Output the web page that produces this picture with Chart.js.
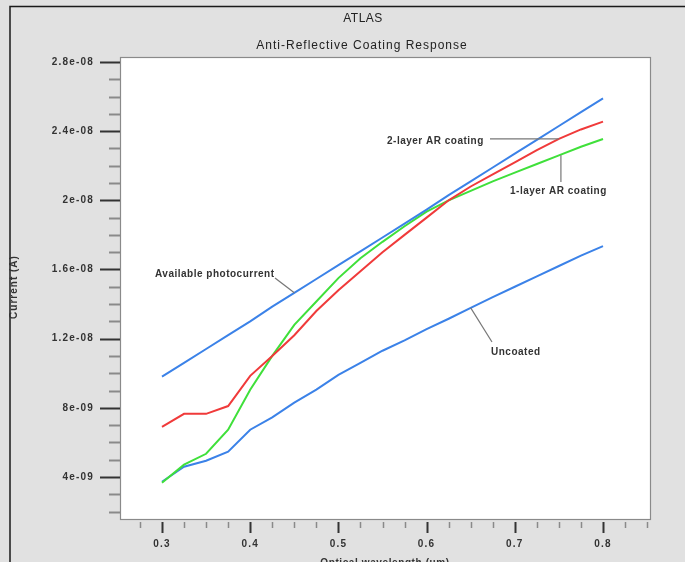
<!DOCTYPE html>
<html>
<head>
<meta charset="utf-8">
<script src="https://cdn.jsdelivr.net/npm/chart.js@4"></script>
<style>
  html, body { margin: 0; padding: 0; background: #e1e1e1; }
  #wrap { position: relative; width: 685px; height: 562px; overflow: hidden; }
  canvas { position: absolute; left: 0; top: 0; }
</style>
</head>
<body>
<div id="wrap"><canvas id="arChart" width="685" height="562"></canvas></div>
<script>
// wavelength samples (um) and currents in units of 1e-8 A
const wavelength = [0.3, 0.325, 0.35, 0.375, 0.4, 0.425, 0.45, 0.475, 0.5, 0.525, 0.55,
                    0.575, 0.6, 0.625, 0.65, 0.675, 0.7, 0.725, 0.75, 0.775, 0.8];
const available = [0.98, 1.06, 1.14, 1.22, 1.30, 1.385, 1.465, 1.545, 1.625, 1.705, 1.785,
                   1.865, 1.946, 2.03, 2.11, 2.19, 2.27, 2.35, 2.43, 2.51, 2.59];
const twoLayer = [0.69, 0.765, 0.765, 0.81, 0.985, 1.10, 1.22, 1.36, 1.48, 1.59, 1.70,
                  1.80, 1.90, 2.0, 2.08, 2.15, 2.22, 2.29, 2.355, 2.41, 2.455];
const oneLayer = [0.366, 0.471, 0.534, 0.673, 0.904, 1.10, 1.28, 1.415, 1.55, 1.665, 1.76,
                  1.85, 1.935, 2.0, 2.055, 2.11, 2.16, 2.21, 2.26, 2.31, 2.355];
const uncoated = [0.372, 0.459, 0.494, 0.546, 0.673, 0.745, 0.83, 0.905, 0.99, 1.06, 1.13,
                  1.19, 1.255, 1.315, 1.378, 1.44, 1.50, 1.56, 1.62, 1.68, 1.735];

const yTickValues = [4e-9, 8e-9, 1.2e-8, 1.6e-8, 2e-8, 2.4e-8, 2.8e-8];
const yTickLabels = ["4e-09", "8e-09", "1.2e-08", "1.6e-08", "2e-08", "2.4e-08", "2.8e-08"];
const xTickValues = [0.3, 0.4, 0.5, 0.6, 0.7, 0.8];
const xTickLabels = ["0.3", "0.4", "0.5", "0.6", "0.7", "0.8"];

const UNIT = 1e-8;
const BLUE = "#3b82e8";
const RED = "#f03a3a";
const GREEN = "#3fe03a";
const FONT = "'Liberation Sans', Arial, sans-serif";

function toPoints(values) {
    return wavelength.map((w, i) => ({ x: w, y: values[i] * UNIT }));
}

function series(label, values, color) {
    return {
        label: label,
        data: toPoints(values),
        borderColor: color,
        borderWidth: 2,
        pointRadius: 0,
        tension: 0,
        fill: false
    };
}

// frame, plot box, ticks, titles and the curve callouts
const atlasFrame = {
    id: "atlasFrame",
    beforeDraw(chart) {
        const ctx = chart.ctx;
        const a = chart.chartArea;
        ctx.save();
        ctx.fillStyle = "#e1e1e1";
        ctx.fillRect(0, 0, chart.width, chart.height);
        ctx.fillStyle = "#ffffff";
        ctx.fillRect(a.left, a.top, a.right - a.left, a.bottom - a.top);

        // outer border (top and left)
        ctx.strokeStyle = "#1a1a1a";
        ctx.lineWidth = 1.5;
        ctx.beginPath();
        ctx.moveTo(10, 562);
        ctx.lineTo(10, 6.5);
        ctx.lineTo(685, 6.5);
        ctx.stroke();

        // titles
        ctx.fillStyle = "#222";
        ctx.textAlign = "center";
        ctx.textBaseline = "middle";
        ctx.font = "12px " + FONT;
        ctx.letterSpacing = "0.5px";
        ctx.fillText("ATLAS", 363, 19);
        ctx.letterSpacing = "1px";
        ctx.fillText("Anti-Reflective Coating Response", 362, 46);
        ctx.restore();
    },
    afterDatasetsDraw(chart) {
        const ctx = chart.ctx;
        const a = chart.chartArea;
        const xs = chart.scales.x;
        const ys = chart.scales.y;
        ctx.save();

        // box outline
        ctx.strokeStyle = "#8a8a8a";
        ctx.lineWidth = 1.2;
        ctx.strokeRect(a.left + 0.5, a.top + 0.5, a.right - a.left - 1, a.bottom - a.top - 1);

        // y ticks: minor every 1e-9, major at the labelled values
        ctx.lineWidth = 2;
        for (let k = 2; k <= 28; k++) {
            const v = k * 1e-9;
            const py = Math.round(ys.getPixelForValue(v)) + 0.5;
            const major = k % 4 === 0;
            ctx.strokeStyle = major ? "#333" : "#8a8a8a";
            ctx.beginPath();
            ctx.moveTo(a.left - (major ? 20 : 11), py);
            ctx.lineTo(a.left, py);
            ctx.stroke();
        }
        ctx.fillStyle = "#333";
        ctx.font = "bold 10px " + FONT;
        ctx.letterSpacing = "1.2px";
        ctx.textAlign = "right";
        ctx.textBaseline = "middle";
        yTickValues.forEach((v, i) => {
            ctx.fillText(yTickLabels[i], a.left - 26, ys.getPixelForValue(v));
        });

        // x ticks: minor every 0.025, major every 0.1
        for (let k = 11; k <= 34; k++) {
            const v = k * 0.025;
            const px = Math.round(xs.getPixelForValue(v)) + 0.5;
            const major = k % 4 === 0;
            ctx.strokeStyle = major ? "#333" : "#8a8a8a";
            ctx.lineWidth = major ? 2 : 1.5;
            ctx.beginPath();
            ctx.moveTo(px, a.bottom + 2);
            ctx.lineTo(px, a.bottom + (major ? 13 : 8));
            ctx.stroke();
        }
        ctx.textAlign = "center";
        xTickValues.forEach((v, i) => {
            ctx.fillText(xTickLabels[i], xs.getPixelForValue(v), 544);
        });

        // axis titles
        ctx.letterSpacing = "0.6px";
        ctx.fillText("Optical wavelength (um)", 385, 563);
        ctx.save();
        ctx.letterSpacing = "1px";
        ctx.translate(14, 287);
        ctx.rotate(-Math.PI / 2);
        ctx.fillText("Current (A)", 0, 0);
        ctx.restore();

        // callouts with leader lines to the curves
        const at = (w, values) => ({
            x: xs.getPixelForValue(w),
            y: ys.getPixelForValue(values[wavelength.indexOf(w)] * UNIT)
        });
        ctx.strokeStyle = "#777";
        ctx.lineWidth = 1.2;
        ctx.letterSpacing = "0.5px";
        ctx.textAlign = "left";

        let p = at(0.45, available);
        ctx.beginPath(); ctx.moveTo(275, 278); ctx.lineTo(p.x, p.y); ctx.stroke();
        ctx.fillText("Available photocurrent", 155, 274);

        p = at(0.75, twoLayer);
        ctx.beginPath(); ctx.moveTo(490, p.y); ctx.lineTo(p.x, p.y); ctx.stroke();
        ctx.fillText("2-layer AR coating", 387, 141);

        p = at(0.75, oneLayer);
        ctx.beginPath(); ctx.moveTo(p.x + 2, p.y); ctx.lineTo(p.x + 2, 182); ctx.stroke();
        ctx.fillText("1-layer AR coating", 510, 191);

        p = at(0.65, uncoated);
        ctx.beginPath(); ctx.moveTo(p.x, p.y); ctx.lineTo(492, 342); ctx.stroke();
        ctx.fillText("Uncoated", 491, 352);

        ctx.restore();
    }
};

new Chart(document.getElementById("arChart").getContext("2d"), {
    type: "line",
    data: {
        datasets: [
            series("Available photocurrent", available, BLUE),
            series("2-layer AR coating", twoLayer, RED),
            series("1-layer AR coating", oneLayer, GREEN),
            series("Uncoated", uncoated, BLUE)
        ]
    },
    options: {
        responsive: false,
        animation: false,
        layout: { padding: { left: 120, top: 57, right: 34, bottom: 42 } },
        scales: {
            x: { type: "linear", display: false, min: 0.2524, max: 0.8544 },
            y: { type: "linear", display: false, min: 0.151e-8, max: 2.829e-8 }
        },
        plugins: {
            legend: { display: false },
            tooltip: { enabled: false }
        }
    },
    plugins: [atlasFrame]
});
</script>
</body>
</html>
